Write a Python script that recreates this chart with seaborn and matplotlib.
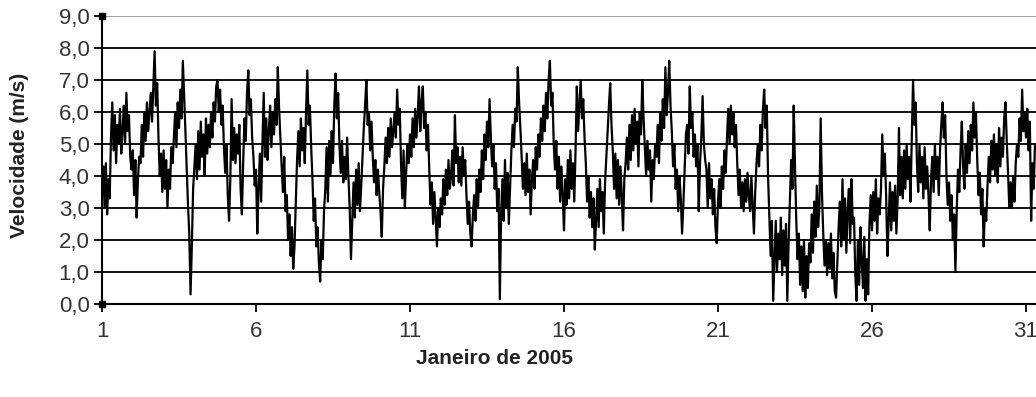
import numpy as np
import pandas as pd
import matplotlib
matplotlib.use("Agg")
import matplotlib.pyplot as plt
import seaborn as sns

# hourly wind speed (m/s), January 2005
jan01 = [3.6, 4.3, 3.0, 4.4, 2.8, 3.9, 3.3, 5.2, 6.3, 4.8, 5.9, 4.4, 5.6, 5.0, 6.1, 4.7, 5.4, 6.2, 5.0, 6.6, 5.4, 5.9, 4.6, 4.2]
jan02 = [4.8, 3.4, 4.5, 2.7, 3.9, 4.6, 4.4, 5.6, 4.6, 6.0, 5.1, 6.3, 5.4, 6.0, 6.6, 5.7, 6.8, 7.9, 6.2, 6.9, 5.2, 4.0, 4.7, 3.5]
jan03 = [4.8, 3.6, 4.5, 3.0, 4.2, 3.6, 4.9, 4.4, 5.2, 6.0, 4.9, 6.3, 5.5, 6.7, 5.8, 7.6, 6.5, 5.4, 4.2, 3.1, 2.2, 0.3, 1.8, 3.6]
jan04 = [4.3, 5.0, 3.9, 5.4, 4.2, 5.7, 4.6, 5.3, 4.0, 5.8, 4.7, 5.6, 4.9, 6.0, 5.2, 6.3, 5.7, 6.8, 7.0, 6.0, 6.7, 5.6, 6.2, 4.9]
jan05 = [4.1, 5.0, 3.4, 2.6, 3.9, 6.4, 4.5, 5.5, 4.4, 5.3, 4.7, 5.6, 3.6, 2.8, 4.4, 5.8, 5.1, 6.6, 7.3, 5.9, 6.4, 5.2, 4.6, 3.7]
jan06 = [4.2, 2.2, 3.6, 4.7, 3.2, 5.0, 6.6, 4.6, 5.8, 4.5, 5.4, 6.2, 4.9, 6.0, 5.3, 6.4, 5.6, 7.4, 6.1, 5.2, 4.3, 3.5, 4.6, 2.9]
jan07 = [3.4, 2.0, 2.8, 1.5, 2.4, 1.1, 1.8, 3.2, 4.5, 5.4, 4.3, 5.8, 4.8, 5.5, 4.4, 6.0, 7.3, 5.6, 6.2, 4.9, 3.9, 2.6, 3.3, 1.8]
jan08 = [2.4, 1.3, 0.7, 2.0, 1.4, 2.9, 3.6, 4.9, 3.2, 5.1, 4.0, 5.4, 4.4, 6.2, 7.2, 5.8, 6.6, 5.0, 4.1, 5.1, 3.8, 4.6, 3.9, 5.2]
jan09 = [4.0, 3.0, 1.4, 2.6, 3.8, 2.7, 4.2, 3.1, 4.4, 2.9, 3.7, 4.6, 5.5, 6.2, 7.0, 5.6, 6.0, 4.8, 5.7, 4.6, 3.8, 4.5, 3.4, 4.2]
jan10 = [3.5, 2.9, 2.1, 3.6, 4.3, 5.2, 4.4, 5.5, 4.6, 5.8, 4.9, 5.4, 6.0, 5.2, 6.7, 5.6, 6.1, 4.4, 3.3, 4.8, 3.0, 4.1, 5.0, 4.4]
jan11 = [5.3, 4.6, 5.8, 4.9, 6.1, 5.2, 5.9, 6.8, 5.4, 6.3, 6.8, 5.5, 6.0, 4.8, 5.6, 4.2, 3.1, 3.8, 2.5, 3.5, 2.7, 1.8, 3.0, 2.4]
jan12 = [3.3, 2.8, 3.9, 3.1, 4.2, 3.4, 4.5, 3.6, 4.0, 4.8, 3.7, 5.9, 4.4, 4.9, 3.8, 4.6, 3.7, 4.9, 4.0, 4.5, 3.4, 2.5, 3.2, 2.2]
jan13 = [1.8, 2.8, 3.4, 2.6, 3.9, 3.0, 4.2, 3.5, 4.8, 3.9, 5.3, 4.5, 5.7, 4.9, 6.4, 5.2, 4.3, 5.0, 3.6, 4.4, 2.9, 3.6, 0.15, 2.8]
jan14 = [3.9, 2.6, 4.5, 3.0, 4.1, 2.5, 3.7, 4.8, 5.6, 4.9, 6.1, 5.7, 7.4, 6.3, 5.5, 4.6, 3.6, 4.4, 3.4, 4.7, 3.5, 4.2, 2.8, 3.9]
jan15 = [4.5, 3.6, 4.9, 4.2, 5.3, 4.6, 5.8, 5.1, 6.2, 5.4, 6.6, 5.8, 7.0, 7.6, 6.2, 6.6, 5.0, 4.2, 5.1, 3.6, 4.6, 3.2, 4.3, 3.4]
jan16 = [2.3, 3.9, 3.1, 4.5, 3.3, 4.8, 3.6, 4.4, 3.2, 4.8, 6.8, 5.4, 6.2, 7.0, 5.8, 6.4, 5.2, 4.4, 3.2, 4.0, 2.7, 3.5, 2.4, 3.3]
jan17 = [1.7, 2.6, 3.6, 2.4, 3.9, 2.9, 3.5, 2.2, 3.8, 4.6, 5.4, 6.2, 6.9, 5.6, 4.8, 3.6, 4.7, 3.3, 4.5, 3.1, 4.3, 3.4, 2.3, 3.9]
jan18 = [4.4, 5.2, 4.2, 5.6, 4.5, 5.9, 4.8, 6.1, 5.0, 5.7, 4.3, 6.0, 5.3, 7.0, 5.8, 4.9, 4.0, 5.1, 4.2, 4.8, 3.2, 4.5, 3.9, 5.0]
jan19 = [4.6, 5.6, 4.4, 6.0, 5.1, 6.4, 5.5, 7.4, 5.9, 6.6, 7.6, 6.2, 5.4, 4.3, 5.0, 3.6, 4.2, 2.9, 4.0, 3.3, 2.2, 3.1, 4.2, 5.3]
jan20 = [5.6, 4.7, 6.8, 5.5, 6.0, 4.6, 5.3, 4.3, 5.0, 2.9, 4.4, 5.2, 6.5, 5.0, 4.5, 4.2, 3.0, 4.4, 3.3, 3.9, 2.8, 3.6, 2.4, 1.9]
jan21 = [3.2, 3.9, 3.0, 4.3, 3.6, 4.8, 4.1, 5.2, 6.1, 5.0, 6.2, 5.3, 6.0, 4.9, 5.6, 4.4, 3.4, 4.2, 3.0, 3.8, 2.9, 3.9, 3.2, 4.1]
jan22 = [3.4, 2.9, 4.0, 3.1, 2.2, 3.5, 4.4, 5.0, 4.3, 5.6, 4.8, 6.1, 6.7, 5.5, 6.2, 4.0, 2.8, 1.5, 2.6, 0.1, 1.3, 2.6, 1.0, 2.2]
jan23 = [1.4, 2.7, 0.9, 2.3, 1.2, 2.5, 0.1, 1.9, 3.2, 4.5, 3.6, 6.2, 4.3, 2.6, 1.4, 2.2, 0.6, 1.8, 0.4, 2.0, 0.2, 1.5, 0.5, 1.9]
jan24 = [1.3, 2.8, 1.6, 3.2, 2.1, 3.7, 2.4, 3.0, 5.8, 3.5, 2.2, 1.2, 2.0, 0.9, 1.9, 1.1, 2.2, 0.8, 1.6, 0.4, 0.2, 1.3, 2.4, 3.2]
jan25 = [1.8, 3.9, 2.0, 3.3, 1.6, 2.9, 3.6, 1.9, 3.9, 2.5, 2.7, 0.9, 0.1, 2.0, 0.6, 2.4, 1.3, 0.5, 2.1, 0.1, 1.4, 0.3, 2.5, 3.4]
jan26 = [2.3, 3.5, 2.6, 3.9, 2.2, 3.3, 2.8, 3.6, 5.3, 4.0, 4.7, 3.4, 1.5, 2.6, 3.8, 2.3, 3.5, 2.6, 3.7, 2.2, 3.3, 5.5, 3.4, 4.6]
jan27 = [3.3, 4.8, 3.6, 5.0, 3.9, 4.6, 3.2, 5.2, 7.0, 5.6, 6.3, 4.4, 3.5, 5.0, 3.8, 4.6, 3.3, 4.9, 3.6, 4.3, 3.4, 2.3, 3.9, 4.6]
jan28 = [3.5, 5.0, 3.9, 4.6, 3.4, 4.8, 5.6, 6.3, 5.2, 5.9, 4.0, 3.1, 3.8, 2.6, 3.4, 2.0, 2.8, 1.0, 2.9, 4.2, 3.5, 4.8, 5.7, 4.3]
jan29 = [3.6, 5.0, 4.1, 5.4, 4.4, 5.6, 4.8, 6.3, 5.2, 6.0, 4.5, 3.4, 4.1, 2.8, 3.6, 1.8, 3.0, 2.6, 3.7, 4.6, 3.8, 5.1, 4.2, 5.3]
jan30 = [4.0, 5.0, 3.8, 5.5, 4.3, 5.2, 4.6, 5.8, 6.3, 5.1, 4.1, 3.0, 3.8, 3.0, 4.0, 3.2, 4.4, 5.0, 4.6, 5.8, 5.1, 6.7, 5.4, 6.0]
jan31 = [5.2, 6.1, 4.8, 5.7, 2.6, 4.4, 3.6, 5.0]

day_ticks = [1, 6, 11, 16, 21, 26, 31]
y_ticks = [0, 1, 2, 3, 4, 5, 6, 7, 8, 9]

days = [jan01, jan02, jan03, jan04, jan05, jan06, jan07, jan08, jan09, jan10,
        jan11, jan12, jan13, jan14, jan15, jan16, jan17, jan18, jan19, jan20,
        jan21, jan22, jan23, jan24, jan25, jan26, jan27, jan28, jan29, jan30, jan31]
speed = np.concatenate(days)
df = pd.DataFrame({"dia": 1 + np.arange(len(speed)) / 24.0, "vel": speed})

sns.set_style("white")
plt.rcParams["font.family"] = ["Liberation Sans", "DejaVu Sans"]

fig = plt.figure(figsize=(10.36, 3.97), dpi=100)
W, H = 1036, 397
ax = fig.add_axes([102 / W, 1 - 304 / H, 1 - 102 / W, (304 - 16) / H])

for y in y_ticks[1:-1]:
    ax.axhline(y, color="black", lw=1.3, zorder=1)
ax.axhline(9, color="#999999", lw=1.3, zorder=1)

sns.lineplot(data=df, x="dia", y="vel", color="black", lw=1.6, ax=ax, zorder=3)

# small handles at the axis ends, as in the original Excel chart
ax.plot([1, 1], [0, 9], ls="none", marker="s", ms=5, color="black",
        clip_on=False, zorder=5)

ax.set_xlim(1, 1 + (W - 102) / 30.8)
ax.set_ylim(0, 9)
ax.set_xticks(day_ticks)
ax.set_xticklabels([str(d) for d in day_ticks])
ax.set_yticks(y_ticks)
ax.set_yticklabels([f"{v:.1f}".replace(".", ",") for v in y_ticks])

for s in ["right", "top"]:
    ax.spines[s].set_visible(False)
ax.spines["left"].set_color("black")
ax.spines["left"].set_linewidth(1.5)
ax.spines["bottom"].set_color("black")
ax.spines["bottom"].set_linewidth(1.5)

ax.tick_params(axis="y", direction="out", length=6, width=1.3, color="black",
               labelsize=16, labelcolor="#333333", pad=3, left=True)
ax.tick_params(axis="x", direction="out", length=6, width=1.3, color="black",
               labelsize=16, labelcolor="#333333", pad=6, bottom=True)

ax.set_xlabel("")
ax.set_ylabel("")
fig.text(20 / W, 1 - 155 / H, "Velocidade (m/s)", rotation=90, ha="center", va="center",
         fontsize=15, fontweight="bold", color="#222222")
fig.text(495 / W, 1 - 358 / H, "Janeiro de 2005", ha="center", va="center",
         fontsize=15, fontweight="bold", color="#222222")

fig.savefig("out.png", dpi=100)
